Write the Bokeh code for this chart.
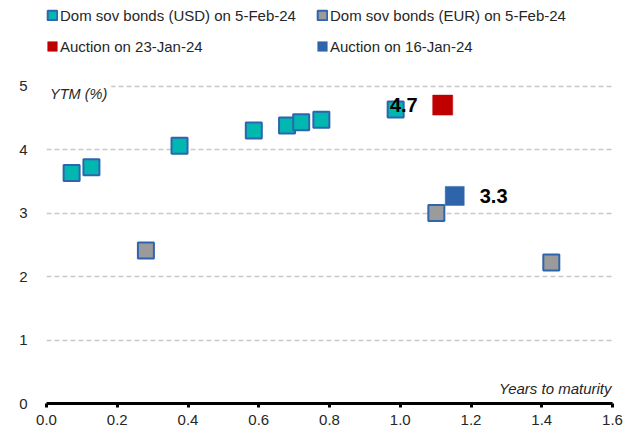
from bokeh.plotting import figure
from bokeh.models import Legend, LegendItem, Label, Range1d, FixedTicker, PrintfTickFormatter
from bokeh.core.properties import value
from bokeh.embed import file_html
from bokeh.resources import INLINE

# ---- data ----
usd_maturity = [0.071, 0.127, 0.376, 0.586, 0.680, 0.720, 0.777, 0.987]
usd_ytm = [3.63, 3.72, 4.06, 4.30, 4.38, 4.43, 4.47, 4.63]
eur_maturity = [0.281, 1.102, 1.427]
eur_ytm = [2.41, 3.00, 2.22]
auction_jan23_maturity = [1.120]
auction_jan23_ytm = [4.70]
auction_jan23_label = ["4.7"]
auction_jan16_maturity = [1.154]
auction_jan16_ytm = [3.27]
auction_jan16_label = ["3.3"]
series_names = ["Dom sov bonds (USD) on 5-Feb-24", "Dom sov bonds (EUR) on 5-Feb-24",
                "Auction on 23-Jan-24", "Auction on 16-Jan-24"]
x_ticks = [0.0, 0.2, 0.4, 0.6, 0.8, 1.0, 1.2, 1.4, 1.6]
y_ticks = [0, 1, 2, 3, 4, 5]

FONT = "Liberation Sans"
TEAL = "#00B8B0"
OUTLINE = "#2F64AE"
GREY = "#9B9B9B"
RED = "#C00000"
BLUE = "#2E64AA"
TXT = "#262626"

# the frame reaches the top of the canvas so that the legend rows sit inside it
p = figure(width=635, height=432, output_backend="svg", toolbar_location=None,
           x_range=Range1d(0, 1.6), y_range=Range1d(0, 6.348),
           min_border_left=46, min_border_right=23, min_border_top=0, min_border_bottom=29)
p.outline_line_color = None
p.background_fill_color = "white"
p.border_fill_color = "white"

# axes
p.xaxis.ticker = FixedTicker(ticks=x_ticks)
p.xaxis.formatter = PrintfTickFormatter(format="%.1f")
p.xaxis.axis_line_color = "black"
p.xaxis.axis_line_width = 3
p.xaxis.major_tick_line_color = "black"
p.xaxis.major_tick_line_width = 3
p.xaxis.major_tick_out = 4
p.xaxis.major_tick_in = 0
p.xaxis.minor_tick_line_color = None
p.xaxis.major_label_standoff = 7
p.xaxis.major_label_text_font = FONT
p.xaxis.major_label_text_font_size = "15px"
p.xaxis.major_label_text_color = TXT

p.yaxis.ticker = FixedTicker(ticks=y_ticks)
p.yaxis.axis_line_color = None
p.yaxis.major_tick_line_color = None
p.yaxis.minor_tick_line_color = None
p.yaxis.major_label_standoff = 13
p.yaxis.major_label_text_font = FONT
p.yaxis.major_label_text_font_size = "15px"
p.yaxis.major_label_text_color = TXT

p.xgrid.grid_line_color = None
p.ygrid.ticker = FixedTicker(ticks=y_ticks)
p.ygrid.grid_line_color = "#C8C8C8"
p.ygrid.grid_line_width = 1.3
p.ygrid.grid_line_dash = "5 3"

# markers
r_usd = p.rect(x=usd_maturity, y=usd_ytm, width=16, height=16, width_units="screen",
               height_units="screen", fill_color=TEAL, line_color=OUTLINE, line_width=2)
r_eur = p.rect(x=eur_maturity, y=eur_ytm, width=16, height=16, width_units="screen",
               height_units="screen", fill_color=GREY, line_color=OUTLINE, line_width=2)
r_red = p.rect(x=auction_jan23_maturity, y=auction_jan23_ytm, width=20, height=20,
               width_units="screen", height_units="screen", fill_color=RED, line_color=RED,
               line_width=0.5)
r_blue = p.rect(x=auction_jan16_maturity, y=auction_jan16_ytm, width=19, height=19,
                width_units="screen", height_units="screen", fill_color=BLUE, line_color=BLUE,
                line_width=0.5)

# value labels
p.text(x=auction_jan23_maturity, y=auction_jan23_ytm, text=auction_jan23_label,
       x_offset=-25, text_align="right", text_baseline="middle",
       text_font=value(FONT), text_font_style="bold", text_font_size="20px", text_color="black")
p.text(x=auction_jan16_maturity, y=auction_jan16_ytm, text=auction_jan16_label,
       x_offset=25, text_align="left", text_baseline="middle",
       text_font=value(FONT), text_font_style="bold", text_font_size="20px", text_color="black")

# axis titles
p.add_layout(Label(x=0.01, y=4.873, text="YTM (%)", text_font=FONT, text_font_style="italic",
                   text_font_size="14.5px", text_color=TXT, text_baseline="middle",
                   background_fill_color="white", border_line_color="white",
                   border_line_width=8))
p.add_layout(Label(x=1.6, y=0.236, x_offset=-1, text="Years to maturity", text_font=FONT,
                   text_font_style="italic", text_font_size="15px", text_color=TXT,
                   text_align="right", text_baseline="middle"))

def make_legend(items, label_width, spacing, y):
    return Legend(items=items, orientation="horizontal", location=(0, y),
                  glyph_width=12, glyph_height=12, label_height=18, label_width=label_width,
                  label_standoff=2, spacing=spacing, padding=0, margin=0,
                  label_text_font=FONT, label_text_font_size="15px", label_text_color=TXT,
                  border_line_color=None, background_fill_alpha=0)

legend_row1 = make_legend([LegendItem(label=series_names[0], renderers=[r_usd]),
                           LegendItem(label=series_names[1], renderers=[r_eur])],
                          238, 18, 379)
legend_row2 = make_legend([LegendItem(label=series_names[2], renderers=[r_red]),
                           LegendItem(label=series_names[3], renderers=[r_blue])],
                          150, 106, 348)
p.add_layout(legend_row1, "center")
p.add_layout(legend_row2, "center")

open("out.html", "w").write(file_html(p, INLINE))
